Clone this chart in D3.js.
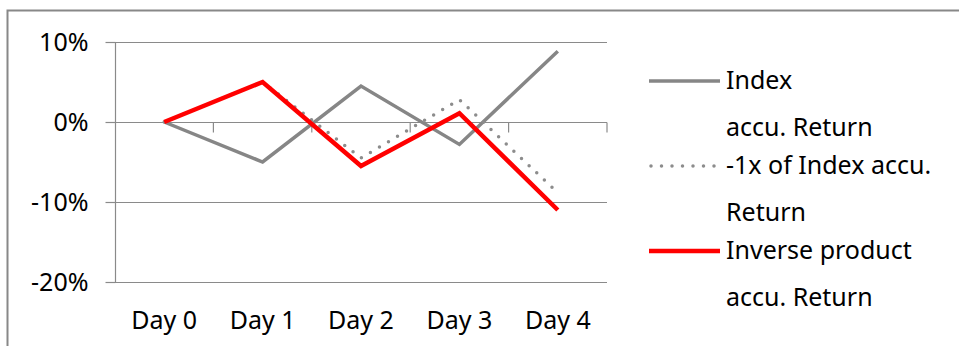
<!DOCTYPE html>
<html>
<head>
<meta charset="utf-8">
<script src="https://cdn.jsdelivr.net/npm/d3@7"></script>
<style>
  html, body { margin: 0; padding: 0; background: #fff; }
  svg { display: block; }
  text { font-family: "Noto Sans", sans-serif; fill: #000; }
</style>
</head>
<body>
<svg id="chart" width="959" height="346"></svg>
<script>
// Accumulated returns over five trading days
const days = ["Day 0", "Day 1", "Day 2", "Day 3", "Day 4"];
const indexReturn = [0, -0.05, 0.045, -0.028, 0.0885];
const minusOneIndexReturn = [0, 0.05, -0.045, 0.028, -0.0885];
const inverseReturn = [0, 0.05, -0.055, 0.011, -0.11];
const yTicks = [-0.2, -0.1, 0, 0.1];
const legendLabels = [
  ["Index", "accu. Return"],
  ["-1x of Index accu.", "Return"],
  ["Inverse product", "accu. Return"]
];

const series = [
  { values: indexReturn, color: "#868686", width: 3.5, dash: null },
  { values: minusOneIndexReturn, color: "#8c8c8c", width: 3.5, dash: "0 10.5" },
  { values: inverseReturn, color: "#ff0000", width: 4.5, dash: null }
];

const svg = d3.select("#chart");
const fontSize = 25;
const gridColor = "#8a8a8a";

// Chart frame (top and left edges are visible)
svg.append("path")
  .attr("d", "M7.5,346 V10.5 H959")
  .attr("fill", "none")
  .attr("stroke", "#888")
  .attr("stroke-width", 2);

const plot = { left: 115, right: 607, top: 42, bottom: 282 };

const x = d3.scaleBand().domain(days).range([plot.left, plot.right]).padding(0);
const y = d3.scaleLinear().domain([-0.2, 0.1]).range([plot.bottom, plot.top]);
const cx = d => x(d) + x.bandwidth() / 2;

// Percent labels with a plain hyphen for negatives
const pct = v => `${Math.round(v * 100)}%`;

// Horizontal gridlines
svg.append("g")
  .selectAll("line")
  .data(yTicks)
  .join("line")
  .attr("x1", plot.left).attr("x2", plot.right)
  .attr("y1", d => Math.round(y(d)) + 0.5).attr("y2", d => Math.round(y(d)) + 0.5)
  .attr("stroke", gridColor).attr("stroke-width", 1.2);

// Value axis
const yAxis = svg.append("g")
  .attr("transform", `translate(${plot.left + 0.5},0)`)
  .call(d3.axisLeft(y).tickValues(yTicks).tickSize(10).tickPadding(17)
    .tickFormat(pct));
yAxis.select(".domain").attr("stroke", gridColor).attr("stroke-width", 1.2)
  .attr("d", `M0,${plot.top}V${plot.bottom}`);
yAxis.selectAll(".tick line").attr("stroke", gridColor).attr("stroke-width", 1.2);
yAxis.selectAll(".tick text")
  .style("font-family", "'Noto Sans', sans-serif")
  .style("font-size", fontSize + "px")
  .attr("fill", "#000");

// Category axis runs along the zero line with ticks between categories
const zeroY = Math.round(y(0)) + 0.5;
const boundaries = days.slice(1).map(d => x(d)).concat([plot.right]);
svg.append("g")
  .selectAll("line")
  .data(boundaries)
  .join("line")
  .attr("x1", d => d).attr("x2", d => d)
  .attr("y1", zeroY).attr("y2", zeroY + 10)
  .attr("stroke", gridColor).attr("stroke-width", 1.2);

// Category labels below the plot
const xAxis = svg.append("g")
  .attr("transform", `translate(0,${plot.bottom})`)
  .call(d3.axisBottom(x).tickSize(0).tickPadding(29));
xAxis.select(".domain").remove();
xAxis.selectAll(".tick text")
  .style("font-family", "'Noto Sans', sans-serif")
  .style("font-size", fontSize + "px")
  .attr("fill", "#000");

// Series lines
const line = d3.line()
  .x((v, i) => cx(days[i]))
  .y(v => y(v));

svg.append("g")
  .selectAll("path")
  .data(series)
  .join("path")
  .attr("d", s => line(s.values))
  .attr("fill", "none")
  .attr("stroke", s => s.color)
  .attr("stroke-width", s => s.width)
  .attr("stroke-dasharray", s => s.dash)
  .attr("stroke-linecap", s => s.dash ? "round" : "butt")
  .attr("stroke-linejoin", "miter");

// Legend
const legend = svg.append("g").attr("transform", "translate(649,0)");
const rowY = [81, 166, 251];
const entries = legend.selectAll("g")
  .data(series)
  .join("g")
  .attr("transform", (s, i) => `translate(0,${rowY[i]})`);

entries.append("line")
  .attr("x1", s => s.dash ? 2 : 0).attr("x2", 71)
  .attr("y1", 0).attr("y2", 0)
  .attr("stroke", s => s.color)
  .attr("stroke-width", s => s.width)
  .attr("stroke-dasharray", s => s.dash)
  .attr("stroke-linecap", s => s.dash ? "round" : "butt");

entries.each(function (s, i) {
  const g = d3.select(this);
  legendLabels[i].forEach((t, j) => {
    g.append("text")
      .attr("x", 77)
      .attr("y", j * 47 + 8)
      .style("font-size", fontSize + "px")
      .text(t);
  });
});
</script>
</body>
</html>
